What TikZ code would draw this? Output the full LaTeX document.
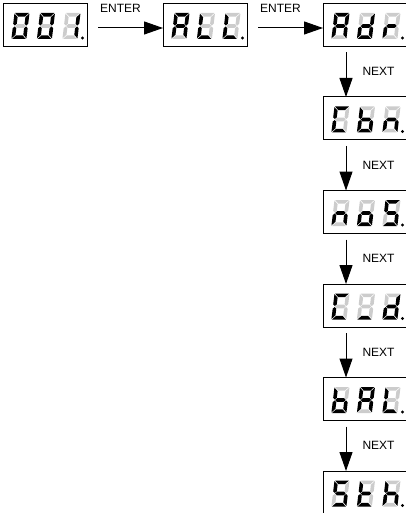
\documentclass[tikz,border=0pt]{standalone}
\usepackage{fontspec}
\setmainfont{Liberation Sans}
\usetikzlibrary{arrows.meta}

\tikzset{
  seg0/.style={fill=black!20},
  seg1/.style={fill=black},
  dispbox/.style={draw, line width=1pt, minimum width=84pt, minimum height=43pt, inner sep=0pt, outer sep=0pt},
  flow/.style={-{Triangle[length=19pt,width=13pt]}, line width=1pt},
  lbl/.style={font=\fontsize{12}{14}\selectfont, inner sep=0pt}
}

% one slanted digit, segments a b c d e f g given as 1 (lit) or 0
\def\segdigitx#1#2#3#4#5#6#7#8{%
\begin{scope}[shift={#1}, xslant=0.12]
\fill[seg#2] (0.6,0) -- (14.4,0) -- (10.8,3.6) -- (4.2,3.6) -- cycle;
\fill[seg#3] (15,0.6) -- (11.4,4.2) -- (11.4,10.75) -- (13.2,12.55) -- (15,10.75) -- cycle;
\fill[seg#4] (15,25.4) -- (11.4,21.8) -- (11.4,15.25) -- (13.2,13.45) -- (15,15.25) -- cycle;
\fill[seg#5] (0.6,26) -- (14.4,26) -- (10.8,22.4) -- (4.2,22.4) -- cycle;
\fill[seg#6] (0,25.4) -- (3.6,21.8) -- (3.6,15.25) -- (1.8,13.45) -- (0,15.25) -- cycle;
\fill[seg#7] (0,0.6) -- (3.6,4.2) -- (3.6,10.75) -- (1.8,12.55) -- (0,10.75) -- cycle;
\fill[seg#8] (2.25,13) -- (4.05,11.2) -- (10.95,11.2) -- (12.75,13) -- (10.95,14.8) -- (4.05,14.8) -- cycle;
\end{scope}}
\newcommand{\segdigit}[2]{\segdigitx{#1}#2}
% three digits and the point inside a display box
\newcommand{\display}[4]{%
\begin{scope}[shift={(#1.north west)}]
\segdigit{(11.5,9.5)}{#2}
\segdigit{(37,9.5)}{#3}
\segdigit{(62.5,9.5)}{#4}
\fill (79.5,34.5) circle[radius=1.7pt];
\end{scope}}

\begin{document}
\begin{tikzpicture}[x=1pt, y=-1pt]
\useasboundingbox (0,0) rectangle (406,513);

\node[dispbox] (d001) at (45,25) {};
\node[dispbox] (dALL) at (205,25) {};
\foreach \nm [count=\i from 0] in {Adr,Cbn,noS,Cd,bAL,StH}
  \node[dispbox] (d\nm) at (365,25+93.5*\i) {};

\display{d001}{1111110}{1111110}{0110000}
\display{dALL}{1110111}{0001110}{0001110}
\display{dAdr}{1110111}{0111101}{0000101}
\display{dCbn}{1001110}{0011111}{0010101}
\display{dnoS}{0010101}{0011101}{1011011}
\display{dCd}{1001110}{0001000}{0111101}
\display{dbAL}{0011111}{1110111}{0001110}
\display{dStH}{1011011}{0001111}{0010111}

% ENTER
\draw[flow] ([xshift=11pt,yshift=-3pt]d001.east) coordinate (e1) -- ([yshift=-3pt]dALL.west);
\node[lbl, anchor=base west] at ([xshift=2pt,yshift=15pt]e1) {ENTER};
\draw[flow] ([xshift=11pt,yshift=-3pt]dALL.east) coordinate (e2) -- ([yshift=-3pt]dAdr.west);
\node[lbl, anchor=base west] at ([xshift=2pt,yshift=15pt]e2) {ENTER};

% NEXT
\foreach \a/\b in {Adr/Cbn,Cbn/noS,noS/Cd,Cd/bAL,bAL/StH}
  \draw[flow] ([xshift=-19pt,yshift=-6pt]d\a.south) -- node[lbl, anchor=west, xshift=16pt, yshift=3pt] {NEXT} ([xshift=-19pt]d\b.north);
\end{tikzpicture}
\end{document}
